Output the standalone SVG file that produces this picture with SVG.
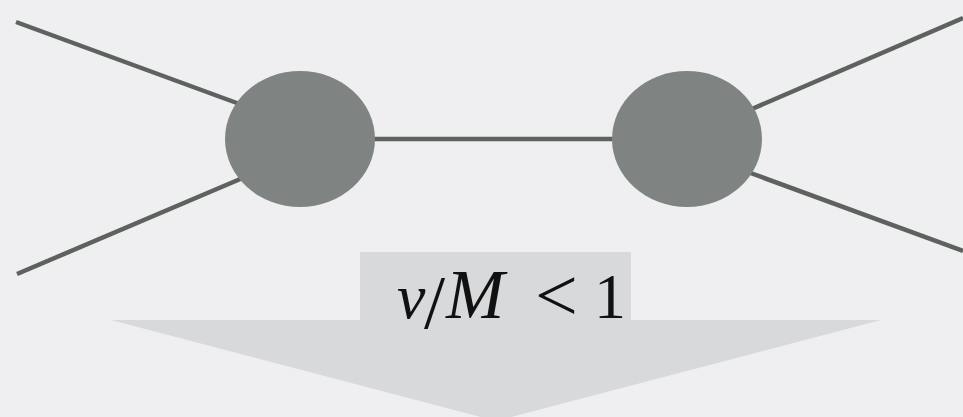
<svg xmlns="http://www.w3.org/2000/svg" width="963" height="417" viewBox="0 0 963 417">
  <style>
    .edge { stroke: #5d625f; stroke-width: 4.5; fill: none; }
    .node { fill: #7f8482; }
    .arrow { fill: #d8d9db; }
    .math { font-family: "Liberation Serif", "DejaVu Serif", serif; font-size: 64px; fill: #111; }
    .it { font-style: italic; }
  </style>
  <rect x="0" y="0" width="963" height="417" fill="#efeff1"/>
  <g id="connectors">
    <line class="edge" x1="16" y1="22" x2="245" y2="106"/>
    <line class="edge" x1="17" y1="274" x2="245" y2="177"/>
    <line class="edge" x1="370" y1="139" x2="616" y2="139"/>
    <line class="edge" x1="745" y1="112" x2="963" y2="18"/>
    <line class="edge" x1="745" y1="171" x2="963" y2="251"/>
  </g>
  <g id="node-left">
    <ellipse class="node" cx="300" cy="139" rx="75" ry="68"/>
  </g>
  <g id="node-right">
    <ellipse class="node" cx="687" cy="139" rx="75" ry="68"/>
  </g>
  <g id="arrow">
    <polygon class="arrow" points="360,252 631,252 631,320 881,320 496,421 111,320 360,320"/>
    <text class="math" y="318"><tspan class="it" x="397">v</tspan><tspan x="424" y="328" font-size="76">/</tspan><tspan class="it" x="446" y="318" font-size="70">M</tspan><tspan x="535" y="321" font-size="76">&lt;</tspan><tspan x="594" y="318">1</tspan></text>
  </g>
</svg>
